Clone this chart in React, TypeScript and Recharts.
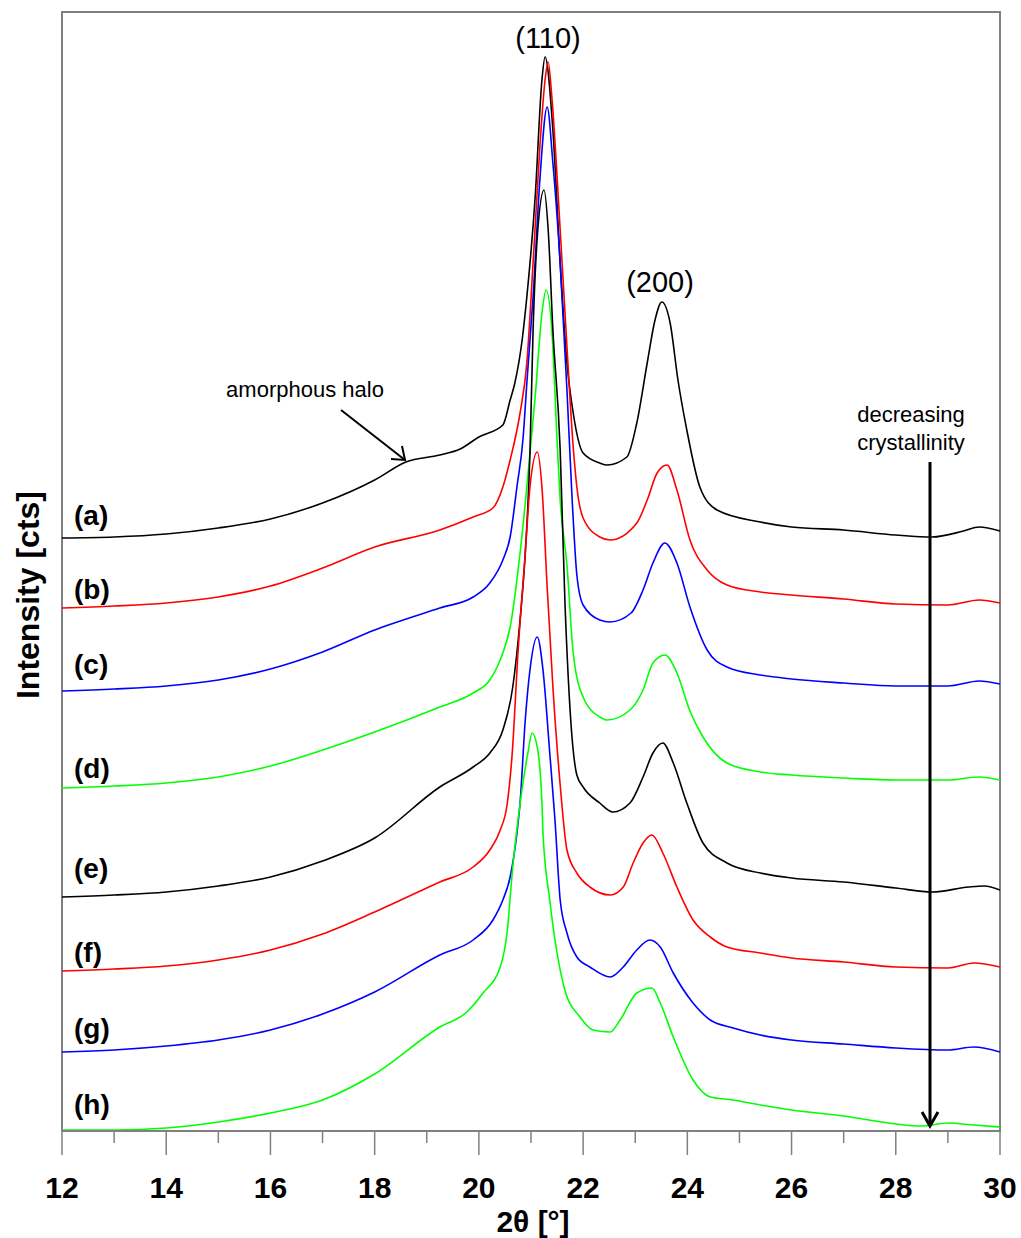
import { Line, LineChart, ReferenceArea, XAxis, YAxis } from "recharts";

// intensity, arbitrary stacked units (0 = axis)
const traceA: [number, number][] = [
  [12, 593], [13, 594], [14, 597], [15, 603], [16, 612], [17, 628], [18, 651], [18.6, 669],
  [19.25, 676], [19.64, 682], [20, 694], [20.46, 706], [20.6, 731], [20.69, 748], [20.83, 791],
  [20.92, 834], [21.08, 934], [21.21, 1051], [21.27, 1074], [21.42, 1001], [21.56, 868],
  [21.69, 768], [21.81, 718], [22, 678], [22.32, 668], [22.46, 666], [22.84, 674], [23.03, 708],
  [23.23, 768], [23.38, 811], [23.51, 829], [23.67, 808], [23.82, 751], [23.99, 701],
  [24.24, 644], [24.57, 621], [25.4, 609], [26, 604], [27, 601], [28, 596], [28.7, 594],
  [29.3, 600], [29.6, 604], [30, 600],
];
const traceB: [number, number][] = [
  [12, 523], [13, 525], [14, 528], [15, 534], [16, 545], [17, 563], [18, 584], [19.25, 601],
  [19.89, 614], [20.27, 623], [20.46, 644], [20.6, 671], [20.79, 718], [20.92, 768],
  [21.04, 868], [21.17, 984], [21.27, 1051], [21.33, 1069], [21.4, 1034], [21.56, 901],
  [21.69, 784], [21.81, 684], [21.88, 644], [22, 613], [22.32, 594], [22.52, 591], [23.03, 608],
  [23.23, 631], [23.42, 658], [23.61, 666], [23.8, 641], [24.05, 591], [24.38, 561],
  [24.76, 546], [25.4, 539], [26, 536], [27, 532], [28, 527], [29, 526], [29.6, 531], [30, 528],
];
const traceC: [number, number][] = [
  [12, 440], [13, 442], [14, 445], [15, 451], [16, 462], [17, 479], [18, 501], [19.25, 523],
  [19.89, 534], [20.21, 548], [20.46, 571], [20.6, 594], [20.73, 644], [20.85, 694],
  [20.92, 748], [21.04, 834], [21.17, 951], [21.31, 1024], [21.42, 968], [21.56, 868],
  [21.69, 741], [21.79, 631], [21.88, 556], [22, 526], [22.32, 511], [22.52, 509], [22.92, 518],
  [23.15, 541], [23.34, 568], [23.57, 588], [23.8, 568], [24.05, 524], [24.38, 481],
  [24.76, 464], [25.4, 456], [26, 452], [27, 448], [28, 445], [29, 445], [29.6, 450], [30, 447],
];
const traceD: [number, number][] = [
  [12, 343], [13, 345], [14, 348], [15, 354], [16, 365], [17, 381], [18, 399], [19.25, 424],
  [19.89, 438], [20.21, 451], [20.35, 464], [20.46, 478], [20.6, 504], [20.79, 578],
  [20.92, 644], [21.08, 734], [21.21, 818], [21.29, 841], [21.4, 801], [21.5, 691],
  [21.56, 631], [21.69, 566], [21.81, 478], [22, 434], [22.32, 414], [22.46, 411], [22.9, 421],
  [23.15, 441], [23.34, 468], [23.57, 476], [23.8, 458], [24.05, 420], [24.3, 394],
  [24.76, 368], [25.4, 359], [26, 356], [27, 353], [28, 351], [29, 351], [29.6, 354], [30, 351],
];
const traceE: [number, number][] = [
  [12, 234], [13, 236], [14, 239], [15, 245], [16, 254], [17, 270], [18, 293], [19.25, 344],
  [19.89, 364], [20.21, 378], [20.46, 401], [20.65, 444], [20.79, 511], [20.89, 578],
  [20.98, 678], [21.04, 801], [21.13, 901], [21.25, 941], [21.33, 901], [21.42, 801],
  [21.56, 681], [21.65, 531], [21.75, 421], [21.88, 356], [22, 344], [22.32, 328], [22.57, 319],
  [22.9, 328], [23.15, 354], [23.34, 378], [23.53, 388], [23.73, 368], [23.99, 328],
  [24.3, 288], [24.76, 268], [25.4, 258], [26, 253], [27, 249], [28, 243], [28.7, 239],
  [29.4, 244], [29.7, 245], [30, 241],
];
const traceF: [number, number][] = [
  [12, 160], [13, 162], [14, 165], [15, 171], [16, 181], [17, 197], [18, 219], [19.25, 249],
  [19.89, 264], [20.21, 281], [20.41, 301], [20.54, 326], [20.64, 378], [20.75, 478],
  [20.89, 578], [20.98, 644], [21.12, 679], [21.21, 644], [21.31, 544], [21.42, 444],
  [21.56, 346], [21.69, 281], [21.88, 258], [22.13, 244], [22.52, 236], [22.77, 244],
  [22.96, 268], [23.15, 288], [23.32, 296], [23.53, 278], [23.8, 244], [24.11, 211],
  [24.44, 194], [24.76, 184], [25.4, 178], [26, 173], [27, 169], [28, 164], [29, 163],
  [29.5, 168], [30, 164],
];
const traceG: [number, number][] = [
  [12, 79], [13, 81], [14, 85], [15, 91], [16, 101], [17, 117], [18, 139], [19.25, 176],
  [19.89, 191], [20.27, 211], [20.46, 231], [20.6, 254], [20.73, 298], [20.79, 328],
  [20.89, 411], [20.98, 461], [21.12, 494], [21.23, 461], [21.36, 378], [21.46, 311],
  [21.56, 231], [21.69, 198], [21.88, 174], [22.13, 164], [22.52, 154], [22.77, 164],
  [23.03, 181], [23.28, 191], [23.48, 184], [23.73, 158], [24.11, 128], [24.44, 111],
  [24.88, 103], [25.4, 96], [26, 91], [27, 87], [28, 83], [29, 81], [29.5, 84], [30, 79],
];
const traceH: [number, number][] = [
  [12, 1], [13, 1], [14, 3], [15, 9], [16, 18], [17, 31], [18, 57], [19.25, 104],
  [19.77, 119], [20.08, 138], [20.41, 164], [20.54, 198], [20.65, 264], [20.8, 331],
  [20.94, 378], [21.02, 398], [21.12, 384], [21.21, 328], [21.23, 298], [21.36, 231],
  [21.65, 141], [21.94, 114], [22.19, 101], [22.52, 99], [22.71, 111], [23.03, 138],
  [23.32, 143], [23.48, 128], [23.73, 94], [24.11, 51], [24.44, 34], [24.88, 31], [25.4, 26],
  [26, 21], [27, 15], [28, 7], [28.5, 5], [29, 8], [29.5, 6], [30, 4],
];

const series = [
  { key: "a", data: traceA, color: "#000000" },
  { key: "b", data: traceB, color: "#ff0000" },
  { key: "c", data: traceC, color: "#0000ff" },
  { key: "d", data: traceD, color: "#00ff00" },
  { key: "e", data: traceE, color: "#000000" },
  { key: "f", data: traceF, color: "#ff0000" },
  { key: "g", data: traceG, color: "#0000ff" },
  { key: "h", data: traceH, color: "#00ff00" },
];

const xTicks = [12, 13, 14, 15, 16, 17, 18, 19, 20, 21, 22, 23, 24, 25, 26, 27, 28, 29, 30];

// left-side sample labels, page y of each
const sampleLabels = ["(a)", "(b)", "(c)", "(d)", "(e)", "(f)", "(g)", "(h)"];
const sampleLabelY = [525, 599, 674, 778, 878, 962, 1038, 1114];

const font = "'Liberation Sans', Arial, sans-serif";
const axisGray = "#808080";

const toPoints = (d: [number, number][]) => d.map(([x, y]) => ({ x, y }));

function XTick(props: any) {
  const { x, y, payload } = props;
  const major = payload.value % 2 === 0;
  return (
    <g>
      <line x1={x} x2={x} y1={y} y2={y + (major ? 24 : 12)} stroke={axisGray} strokeWidth={1.5} />
      {major && (
        <text x={x} y={y + 67} textAnchor="middle" fontFamily={font} fontWeight="bold" fontSize={30} fill="#000">
          {payload.value}
        </text>
      )}
    </g>
  );
}

export default function App() {
  return (
    <div style={{ position: "absolute", left: 0, top: 0, width: 1021, height: 1238 }}>
      <LineChart width={1021} height={1238} margin={{ top: 12, right: 21, bottom: 27, left: 62 }}>
        <XAxis
          dataKey="x"
          type="number"
          domain={[12, 30]}
          ticks={xTicks}
          interval={0}
          allowDataOverflow
          height={80}
          tickSize={0}
          tickMargin={0}
          tickLine={false}
          axisLine={{ stroke: axisGray, strokeWidth: 2 }}
          tick={<XTick />}
        />
        <YAxis hide type="number" domain={[0, 1119]} allowDataOverflow />
        <ReferenceArea x1={12} x2={30} y1={0} y2={1119} fill="none" fillOpacity={0} stroke={axisGray} strokeWidth={2} />
        {series.map((s) => (
          <Line
            key={s.key}
            data={toPoints(s.data)}
            dataKey="y"
            type="monotone"
            stroke={s.color}
            strokeWidth={1.6}
            dot={false}
            isAnimationActive={false}
          />
        ))}
      </LineChart>
      <svg
        width={1021}
        height={1238}
        style={{ position: "absolute", left: 0, top: 0, pointerEvents: "none" }}
      >
        <g fontFamily={font}>
          {sampleLabels.map((t, i) => (
            <text key={t} x={74} y={sampleLabelY[i]} fontWeight="bold" fontSize={28} fill="#000">
              {t}
            </text>
          ))}
          <text x={548} y={48} textAnchor="middle" fontSize={29} fill="#000">(110)</text>
          <text x={660} y={292} textAnchor="middle" fontSize={29} fill="#000">(200)</text>
          <text x={305} y={397} textAnchor="middle" fontSize={22} fill="#000">amorphous halo</text>
          <line x1={341} y1={410} x2={405} y2={460} stroke="#000" strokeWidth={2} />
          <polyline points="391,459 405,460 402,446" fill="none" stroke="#000" strokeWidth={2} />
          <text x={911} y={422} textAnchor="middle" fontSize={22} fill="#000">decreasing</text>
          <text x={911} y={450} textAnchor="middle" fontSize={22} fill="#000">crystallinity</text>
          <line x1={930} y1={462} x2={930} y2={1126} stroke="#000" strokeWidth={3} />
          <polyline points="922,1112 930,1126 938,1112" fill="none" stroke="#000" strokeWidth={3} />
          <text
            x={28}
            y={595}
            transform="rotate(-90 28 595)"
            textAnchor="middle"
            dominantBaseline="central"
            fontWeight="bold"
            fontSize={32}
            fill="#000"
          >
            Intensity [cts]
          </text>
          <text x={533} y={1232} textAnchor="middle" fontWeight="bold" fontSize={30} fill="#000">
            2θ [°]
          </text>
        </g>
      </svg>
    </div>
  );
}
